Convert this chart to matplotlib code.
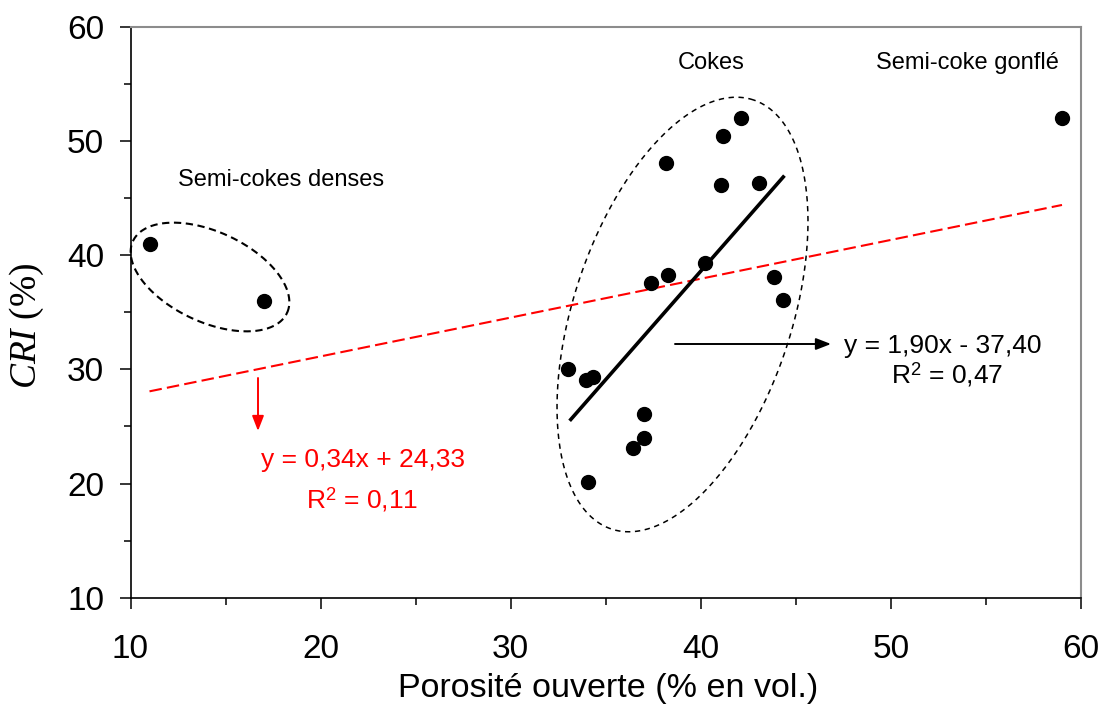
import matplotlib
matplotlib.use("Agg")
import matplotlib.pyplot as plt
import numpy as np
from matplotlib.ticker import MultipleLocator

plt.rcParams['font.family'] = ['Liberation Sans', 'DejaVu Sans']
plt.rcParams['mathtext.fontset'] = 'custom'
plt.rcParams['mathtext.rm'] = 'Liberation Sans'
plt.rcParams['mathtext.it'] = 'Liberation Serif:italic'

# ---- data ----
porosite = [11.0, 17.0, 33.0, 33.95, 34.35, 34.05, 36.45, 37.0, 37.0, 37.4,
            38.25, 38.15, 40.2, 41.15, 41.05, 42.1, 43.05, 43.85, 44.3, 59.0]
cri = [41.0, 36.0, 30.05, 29.1, 29.3, 20.1, 23.1, 24.0, 26.1, 37.6,
       38.25, 48.05, 39.35, 50.45, 46.15, 52.0, 46.3, 38.1, 36.05, 52.0]

# regression on "Cokes"
coke_slope, coke_icpt = 1.90, -37.40
coke_x_range = [33.1, 44.4]
# regression on all points
all_slope, all_icpt = 0.34, 24.33
all_x_range = [11.0, 59.0]

xticks = [10, 20, 30, 40, 50, 60]
yticks = [10, 20, 30, 40, 50, 60]

W, H = 1107, 713
fig = plt.figure(figsize=(W / 100, H / 100), dpi=100)
ax = fig.add_axes([130.5 / W, 1 - 597.7 / H, (1081 - 130.5) / W, (597.7 - 26.7) / H])
ax.set_xlim(10, 60)
ax.set_ylim(10, 60)


def px2data(px, py):
    return ax.transData.inverted().transform((px, H - py))


# regression lines
xr = np.array(all_x_range)
ax.plot(xr, all_slope * xr + all_icpt, color='red', lw=1.5, dashes=(6, 2.5), zorder=2)
xc = np.array(coke_x_range)
ax.plot(xc, coke_slope * xc + coke_icpt, color='black', lw=2.6, zorder=3, solid_capstyle='butt')

# points
ax.plot(porosite, cri, 'o', color='black', markersize=10, zorder=4, clip_on=False)


# ellipses (drawn in pixel space, converted to data)
def ellipse(cx, cy, a, b, phi_deg, lw, dashes):
    t = np.linspace(0, 2 * np.pi, 400)
    phi = np.deg2rad(phi_deg)
    ex = a * np.cos(t)
    ey = b * np.sin(t)
    X = cx + ex * np.cos(phi) - ey * np.sin(phi)
    Yup = ex * np.sin(phi) + ey * np.cos(phi)
    Y = cy - Yup
    pts = np.array([px2data(x, y) for x, y in zip(X, Y)])
    ax.plot(pts[:, 0], pts[:, 1], color='black', lw=lw, dashes=dashes, zorder=1, clip_on=False)


ellipse(210, 277, 85, 45, -25, 1.5, (3.5, 2.2))
ellipse(682.5, 314.5, 226, 109, 71.7, 1.1, (3.5, 3))

# arrows
p0 = px2data(675, 344)
p1 = px2data(831, 344)
ax.annotate('', xy=p1, xytext=p0,
            arrowprops=dict(arrowstyle='-|>,head_length=0.9,head_width=0.35', color='black', lw=1.4,
                            shrinkA=0, shrinkB=0))
r0 = px2data(258, 378)
r1 = px2data(258, 431)
ax.annotate('', xy=r1, xytext=r0,
            arrowprops=dict(arrowstyle='-|>,head_length=0.9,head_width=0.35', color='red', lw=1.4,
                            shrinkA=0, shrinkB=0))

# texts
def ptext(px, py, s, size, color='black', va='baseline'):
    x, y = px2data(px, py)
    ax.text(x, y, s, fontsize=size, color=color, ha='center', va=va)


ptext(281, 186, 'Semi-cokes denses', 17)
ptext(711, 69, 'Cokes', 17)
ptext(967.5, 69, 'Semi-coke gonflé', 17)
ptext(942.5, 353, 'y = 1,90x - 37,40', 19)
ptext(947.5, 383, r'R$^{\mathrm{2}}$ = 0,47', 19)
ptext(363, 467, 'y = 0,34x + 24,33', 19, color='red')
ptext(362, 508, r'R$^{\mathrm{2}}$ = 0,11', 19, color='red')

# axes styling
for s in ['left', 'bottom']:
    ax.spines[s].set_color('black')
    ax.spines[s].set_linewidth(1.2)
for s in ['top', 'right']:
    ax.spines[s].set_color('#8c8c8c')
    ax.spines[s].set_linewidth(1.5)

ax.set_xticks(xticks)
ax.set_yticks(yticks)
ax.xaxis.set_minor_locator(MultipleLocator(5))
ax.yaxis.set_minor_locator(MultipleLocator(5))
ax.tick_params(which='major', direction='out', length=8, width=1.1, labelsize=24,
               top=False, right=False)
ax.tick_params(which='minor', direction='out', length=5, width=1.1, top=False, right=False)
ax.tick_params(axis='x', which='major', pad=18)
ax.tick_params(axis='y', which='major', pad=11)

fig.text(608 / W, 1 - 697 / H, 'Porosité ouverte (% en vol.)', fontsize=24.5,
         ha='center', va='baseline')
fig.text(27 / W, 1 - 326 / H, r'$\mathit{CRI}$ (%)', fontsize=27, rotation=90,
         ha='center', va='center', family='Liberation Serif')

fig.savefig('out.png', dpi=100)
